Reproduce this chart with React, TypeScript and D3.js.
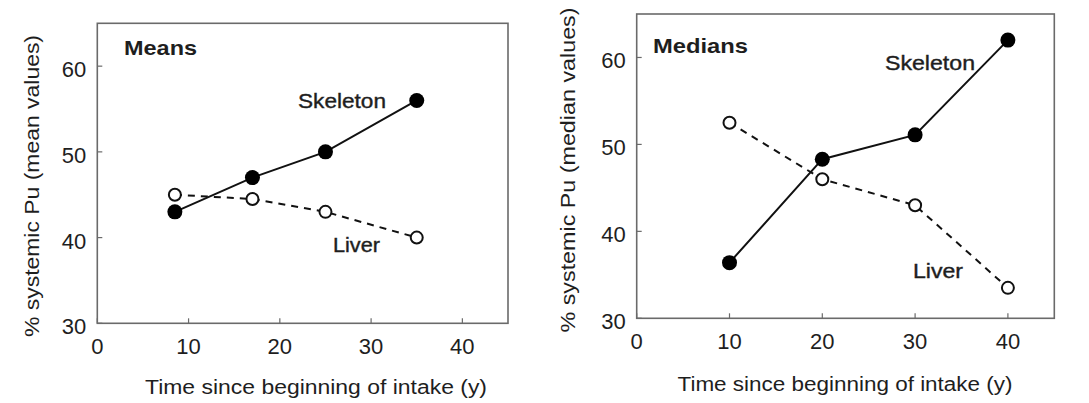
import React from 'react';
import * as d3 from 'd3';

// Means panel
const meansYears = [8.5, 17, 25, 35];
const meansSkeleton = [43, 47, 50, 56];
const meansLiver = [45, 44.5, 43, 40];

// Medians panel
const medianYears = [10, 20, 30, 40];
const medianSkeleton = [36.4, 48.3, 51.1, 62];
const medianLiver = [52.5, 46, 43, 33.5];

const xTicks = [0, 10, 20, 30, 40];
const yTicks = [30, 40, 50, 60];
const xDomain = [0, 45];
const yDomain = [30, 65];

const FONT = '"Liberation Sans", Arial, Helvetica, sans-serif';
const TEXT = '#1e1e1e';
const FRAME = '#6a6a6a';

type Box = { left: number; top: number; right: number; bottom: number };
type Note = { text: string; x: number; y: number; w: number; bold?: boolean };

const Panel = ({
  box,
  years,
  skeleton,
  liver,
  yLabel,
  yLabelPos,
  yLabelLen,
  xLabelPos,
  xLabelLen,
  notes,
}: {
  box: Box;
  years: number[];
  skeleton: number[];
  liver: number[];
  yLabel: string;
  yLabelPos: [number, number];
  yLabelLen: number;
  xLabelPos: [number, number];
  xLabelLen: number;
  notes: Note[];
}) => {
  const x = d3.scaleLinear().domain(xDomain).range([box.left, box.right]);
  const y = d3.scaleLinear().domain(yDomain).range([box.bottom, box.top]);

  const line = d3
    .line<number>()
    .x((_, i) => x(years[i]))
    .y((d) => y(d));

  return (
    <g>
      {/* frame */}
      <rect
        x={box.left}
        y={box.top}
        width={box.right - box.left}
        height={box.bottom - box.top}
        fill="none"
        stroke={FRAME}
        strokeWidth={1.6}
      />
      {/* x ticks, inward */}
      {xTicks.map((t) => (
        <g key={'x' + t}>
          <line x1={x(t)} x2={x(t)} y1={box.bottom} y2={box.bottom - 5} stroke={FRAME} strokeWidth={1.2} />
          <text
            x={x(t)}
            y={box.bottom + 30.5}
            textAnchor="middle"
            fontSize={22}
            fontFamily={FONT}
            fill={TEXT}
          >
            {t}
          </text>
        </g>
      ))}
      {/* y ticks, inward */}
      {yTicks.map((t) => (
        <g key={'y' + t}>
          <line x1={box.left} x2={box.left + 5} y1={y(t)} y2={y(t)} stroke={FRAME} strokeWidth={1.2} />
          <text
            x={box.left - 11}
            y={y(t) + 3.5}
            textAnchor="end"
            dominantBaseline="central"
            fontSize={22}
            fontFamily={FONT}
            fill={TEXT}
          >
            {t}
          </text>
        </g>
      ))}
      <text
        transform={`translate(${yLabelPos[0]}, ${yLabelPos[1]}) rotate(-90)`}
        textAnchor="middle"
        dominantBaseline="central"
        fontSize={20}
        fontFamily={FONT}
        fill={TEXT}
        textLength={yLabelLen}
        lengthAdjust="spacingAndGlyphs"
      >
        {yLabel}
      </text>
      <text
        x={xLabelPos[0]}
        y={xLabelPos[1]}
        textAnchor="middle"
        fontSize={20}
        fontFamily={FONT}
        fill={TEXT}
        textLength={xLabelLen}
        lengthAdjust="spacingAndGlyphs"
      >
        Time since beginning of intake (y)
      </text>

      {/* series */}
      <path d={line(liver) || ''} fill="none" stroke="#111" strokeWidth={2} strokeDasharray="7,6" />
      <path d={line(skeleton) || ''} fill="none" stroke="#111" strokeWidth={2} />
      {liver.map((v, i) => (
        <circle key={'l' + i} cx={x(years[i])} cy={y(v)} r={6} fill="#fff" stroke="#111" strokeWidth={2} />
      ))}
      {skeleton.map((v, i) => (
        <circle key={'s' + i} cx={x(years[i])} cy={y(v)} r={7.5} fill="#000" />
      ))}

      {notes.map((n) => (
        <text
          key={n.text}
          x={n.x}
          y={n.y}
          fontSize={21}
          fontFamily={FONT}
          fontWeight={n.bold ? 'bold' : 'normal'}
          fill={TEXT}
          stroke={n.bold ? 'none' : TEXT}
          strokeWidth={n.bold ? 0 : 0.4}
          textLength={n.w}
          lengthAdjust="spacingAndGlyphs"
        >
          {n.text}
        </text>
      ))}
    </g>
  );
};

export default function App() {
  return (
    <svg
      width={1089}
      height={403}
      style={{ position: 'absolute', left: 0, top: 0, background: '#fff' }}
    >
      <rect width={1089} height={403} fill="#fff" />
      <Panel
        box={{ left: 97.3, top: 23.3, right: 508, bottom: 323.3 }}
        years={meansYears}
        skeleton={meansSkeleton}
        liver={meansLiver}
        yLabel="% systemic Pu (mean values)"
        yLabelPos={[32, 186]}
        yLabelLen={302}
        xLabelPos={[316, 394]}
        xLabelLen={342}
        notes={[
          { text: 'Means', x: 124, y: 55, w: 73, bold: true },
          { text: 'Skeleton', x: 298, y: 108, w: 88 },
          { text: 'Liver', x: 333, y: 252, w: 47 },
        ]}
      />
      <Panel
        box={{ left: 636.7, top: 14, right: 1054.3, bottom: 318.3 }}
        years={medianYears}
        skeleton={medianSkeleton}
        liver={medianLiver}
        yLabel="% systemic Pu (median values)"
        yLabelPos={[568, 170]}
        yLabelLen={325}
        xLabelPos={[845, 391]}
        xLabelLen={335}
        notes={[
          { text: 'Medians', x: 653, y: 53, w: 95, bold: true },
          { text: 'Skeleton', x: 885, y: 70, w: 90 },
          { text: 'Liver', x: 913, y: 278, w: 50 },
        ]}
      />
    </svg>
  );
}
